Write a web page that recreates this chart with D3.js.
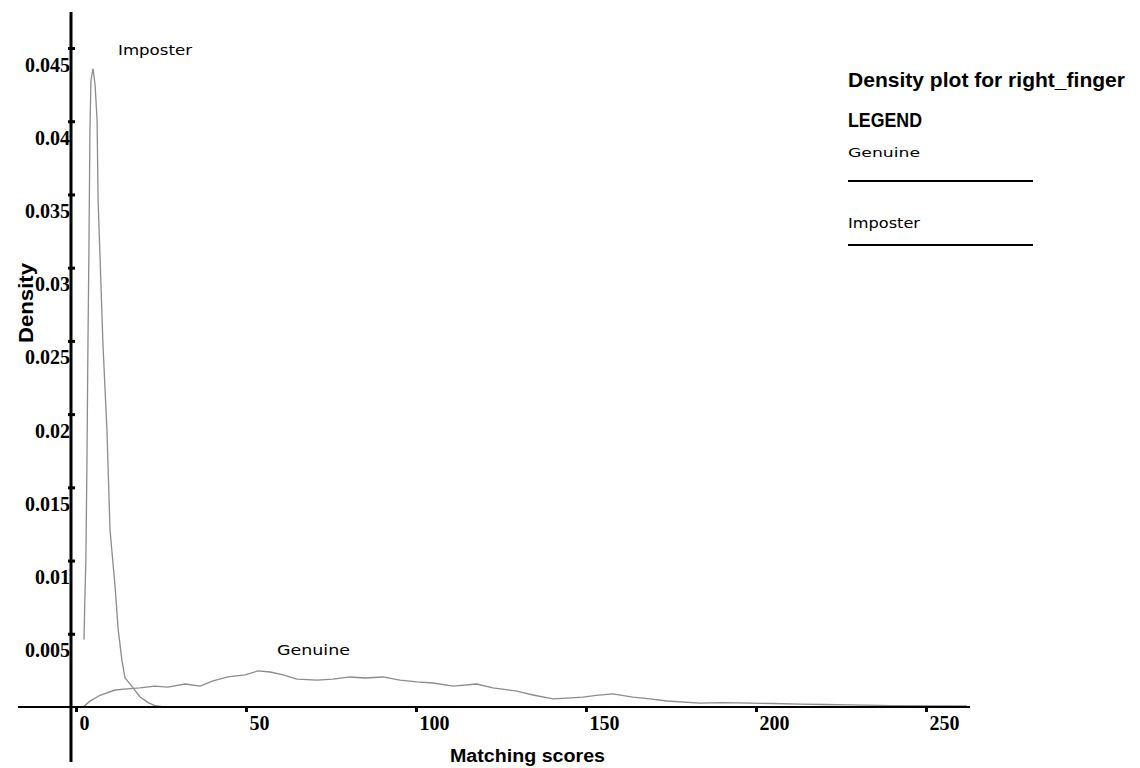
<!DOCTYPE html>
<html><head><meta charset="utf-8">
<script src="https://cdn.jsdelivr.net/npm/d3@7"></script>
<style>body{margin:0;background:#fff}svg{display:block}</style>
</head><body>
<svg id="c" width="1140" height="768"></svg>
<script>
const yTicks = [0.005,0.01,0.015,0.02,0.025,0.03,0.035,0.04,0.045];
const xTicks = [0,50,100,150,200,250];
const imposterScore = [2.35,2.6,2.9,3.2,3.5,3.8,4.1,4.4,5.0,5.6,6.2,6.5,7.1,7.9,9.1,10.0,11.5,12.4,13.5,14.4,16.8,18.8,21.2,23.2,26];
const imposterDensity = [0.0046,0.0073,0.010,0.0162,0.0244,0.0312,0.0394,0.0428,0.0436,0.0425,0.0401,0.0346,0.0305,0.0249,0.0189,0.0121,0.0082,0.0053,0.0032,0.0020,0.0013,0.0007,0.0003,0.0001,0];
const genuineScore = [2.1,4.1,7.1,11.5,15,18.8,23.2,27,32.1,36.5,40.3,44.7,49.7,53.5,57.1,60.9,65,70.9,75.6,80.6,85,90.3,95.3,100.3,105,110.9,117.9,122.6,129.7,134.4,140.3,144.4,149.1,153,157.9,163.8,168.8,173.8,183.5,190,198.2,205,212.9,220,227.6,240,262];
const genuineDensity = [0,0.0004,0.0008,0.00116,0.00124,0.0013,0.00143,0.00136,0.00157,0.00143,0.00178,0.00205,0.00219,0.00246,0.00239,0.00219,0.00191,0.00184,0.00191,0.00205,0.00198,0.00205,0.00184,0.00171,0.00164,0.00143,0.00157,0.0013,0.00109,0.00082,0.00055,0.00061,0.00068,0.0008,0.00089,0.00068,0.00055,0.00041,0.00027,0.0003,0.00027,0.00024,0.0002,0.00017,0.00014,0.0001,0.00007];

const svg = d3.select("#c");
svg.append("rect").attr("width",1140).attr("height",768).attr("fill","#fff");
const x = d3.scaleLinear().domain([0,250]).range([76,926]);
const y = d3.scaleLinear().domain([0,0.045]).range([707,48]);

// curves
const line = d3.line().x(d=>x(d[0])).y(d=>y(d[1]));
const imp = imposterScore.map((s,i)=>[s,imposterDensity[i]]);
const gen = genuineScore.map((s,i)=>[s,genuineDensity[i]]);
svg.append("path").datum(gen).attr("d",line).attr("fill","none").attr("stroke","#8c8c8c").attr("stroke-width",1.3);
svg.append("path").datum(imp).attr("d",line).attr("fill","none").attr("stroke","#8c8c8c").attr("stroke-width",1.3);

// y axis
const ya = svg.append("g").attr("transform","translate(71,0)")
  .call(d3.axisLeft(y).tickValues(yTicks).tickFormat(d=>String(d)).tickSizeOuter(0));
ya.select(".domain").remove();
ya.selectAll(".tick line").attr("x1",-3).attr("x2",4).attr("stroke","#000").attr("stroke-width",3);
ya.selectAll(".tick text").attr("x",-1).attr("dy",null).attr("y",23)
  .attr("font-family","Liberation Serif").attr("font-weight","bold").attr("font-size",20).attr("fill","#000").attr("text-anchor","end");
svg.append("line").attr("x1",71).attr("x2",71).attr("y1",12).attr("y2",762).attr("stroke","#000").attr("stroke-width",3);

// x axis
const xa = svg.append("g").attr("transform","translate(0,707)")
  .call(d3.axisBottom(x).tickValues(xTicks).tickSizeOuter(0));
xa.select(".domain").remove();
xa.selectAll(".tick line").attr("y1",-1).attr("y2",5).attr("stroke","#000").attr("stroke-width",3);
xa.selectAll(".tick text").attr("x",3).attr("dy",null).attr("y",23).attr("text-anchor","start")
  .attr("font-family","Liberation Serif").attr("font-weight","bold").attr("font-size",20).attr("fill","#000");
svg.append("line").attr("x1",18).attr("x2",970).attr("y1",707).attr("y2",707).attr("stroke","#000").attr("stroke-width",2);

// axis titles
svg.append("text").attr("x",450).attr("y",762).attr("textLength",155).attr("lengthAdjust","spacingAndGlyphs")
  .attr("font-family","Liberation Sans").attr("font-weight","bold").attr("font-size",18).text("Matching scores");
svg.append("text").attr("transform","translate(33,343) rotate(-90)").attr("textLength",80).attr("lengthAdjust","spacingAndGlyphs")
  .attr("font-family","Liberation Sans").attr("font-weight","bold").attr("font-size",20).text("Density");

// annotations
svg.append("text").attr("x",118).attr("y",55).attr("textLength",74).attr("lengthAdjust","spacingAndGlyphs")
  .attr("font-family","DejaVu Sans").attr("font-size",14).text("Imposter");
svg.append("text").attr("x",277).attr("y",655).attr("textLength",73).attr("lengthAdjust","spacingAndGlyphs")
  .attr("font-family","DejaVu Sans").attr("font-size",14).text("Genuine");

// title & legend
svg.append("text").attr("x",848).attr("y",87).attr("textLength",277).attr("lengthAdjust","spacingAndGlyphs")
  .attr("font-family","Liberation Sans").attr("font-weight","bold").attr("font-size",21).text("Density plot for right_finger");
svg.append("text").attr("x",848).attr("y",127).attr("textLength",74).attr("lengthAdjust","spacingAndGlyphs")
  .attr("font-family","Liberation Sans").attr("font-weight","bold").attr("font-size",21).text("LEGEND");
svg.append("text").attr("x",848).attr("y",157).attr("textLength",72).attr("lengthAdjust","spacingAndGlyphs")
  .attr("font-family","DejaVu Sans").attr("font-size",12).text("Genuine");
svg.append("line").attr("x1",848).attr("x2",1033).attr("y1",181).attr("y2",181).attr("stroke","#000").attr("stroke-width",2);
svg.append("text").attr("x",848).attr("y",228).attr("textLength",72).attr("lengthAdjust","spacingAndGlyphs")
  .attr("font-family","DejaVu Sans").attr("font-size",14).text("Imposter");
svg.append("line").attr("x1",848).attr("x2",1033).attr("y1",245).attr("y2",245).attr("stroke","#000").attr("stroke-width",2);
</script>
</body></html>
